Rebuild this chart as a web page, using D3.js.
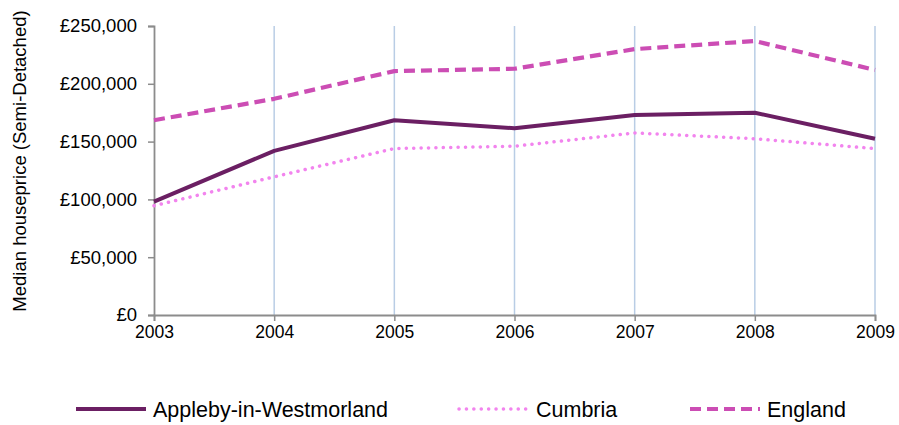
<!DOCTYPE html>
<html><head><meta charset="utf-8">
<script src="https://cdn.jsdelivr.net/npm/d3@7"></script>
<style>body{margin:0;background:#fff}svg{display:block;font-family:"Liberation Sans",Arial,sans-serif}</style>
</head><body><svg id="c" width="899" height="425"></svg>
<script>
const years = [2003, 2004, 2005, 2006, 2007, 2008, 2009];
const appleby = [98000, 142000, 168500, 161500, 173000, 175000, 152500];
const cumbria = [94500, 119500, 144000, 146000, 157500, 152500, 144000];
const england = [168500, 187000, 211000, 213000, 230000, 237000, 212000];
const yTicks = [0, 50000, 100000, 150000, 200000, 250000];
const seriesNames = ["Appleby-in-Westmorland", "Cumbria", "England"];

(function () {
const series = [
  {name: seriesNames[0], values: appleby, color: "#6b1f63", width: 4, dash: null, cap: "butt"},
  {name: seriesNames[1], values: cumbria, color: "#f284ee", width: 3.5, dash: "0.1,7.3", cap: "round"},
  {name: seriesNames[2], values: england, color: "#cc4db4", width: 4.2, dash: "11,6", cap: "butt"}
];

const svg = d3.select("#c");
const mLeft = 154, mRight = 875, mTop = 26, mBottom = 315;
const x = d3.scalePoint().domain(years).range([mLeft, mRight]);
const y = d3.scaleLinear().domain([0, 250000]).range([mBottom, mTop]);

svg.append("g").selectAll("line").data(years.slice(1)).join("line")
  .attr("x1", d => x(d)).attr("x2", d => x(d))
  .attr("y1", mTop).attr("y2", mBottom)
  .attr("stroke", "#b9cde5").attr("stroke-width", 1.5);

const fmt = d => "£" + d3.format(",")(d);

const ya = svg.append("g").attr("transform", `translate(${mLeft},0)`)
  .call(d3.axisLeft(y).tickValues(yTicks).tickFormat(fmt).tickSize(6).tickPadding(11));
ya.select(".domain").attr("stroke", "#8c8c8c").attr("stroke-width", 1.8);
ya.selectAll(".tick line").attr("stroke", "#8c8c8c").attr("stroke-width", 1.5);
ya.selectAll("text").attr("font-size", "18.5px").attr("fill", "#000").attr("font-family", "Liberation Sans, Arial, sans-serif");

const xa = svg.append("g").attr("transform", `translate(0,${mBottom})`)
  .call(d3.axisBottom(x).tickFormat(d => String(d)).tickSize(6).tickPadding(5));
xa.select(".domain").attr("stroke", "#8c8c8c").attr("stroke-width", 1.8);
xa.selectAll(".tick line").attr("stroke", "#8c8c8c").attr("stroke-width", 1.5);
xa.selectAll("text").attr("font-size", "17.5px").attr("fill", "#000").attr("font-family", "Liberation Sans, Arial, sans-serif");

svg.append("text")
  .attr("transform", `translate(26,161) rotate(-90)`)
  .attr("text-anchor", "middle")
  .attr("font-size", "18.5px")
  .text("Median houseprice (Semi-Detached)");

const line = d3.line().x((d, i) => x(years[i])).y(d => y(d));
series.forEach(s => {
  svg.append("path").datum(s.values)
    .attr("d", line)
    .attr("fill", "none")
    .attr("stroke", s.color)
    .attr("stroke-width", s.width)
    .attr("stroke-dasharray", s.dash)
    .attr("stroke-linecap", s.cap)
    .attr("stroke-linejoin", "round");
});

const legX = [76, 459, 690];
const lg = svg.append("g");
series.forEach((s, i) => {
  const g = lg.append("g").attr("transform", `translate(${legX[i]},409)`);
  g.append("line").attr("x1", 0).attr("x2", 70).attr("y1", 0).attr("y2", 0)
    .attr("stroke", s.color).attr("stroke-width", s.width)
    .attr("stroke-dasharray", s.dash).attr("stroke-linecap", s.cap);
  g.append("text").attr("x", 77).attr("y", 8).attr("font-size", "21.5px").text(s.name);
});
})();
</script></body></html>
